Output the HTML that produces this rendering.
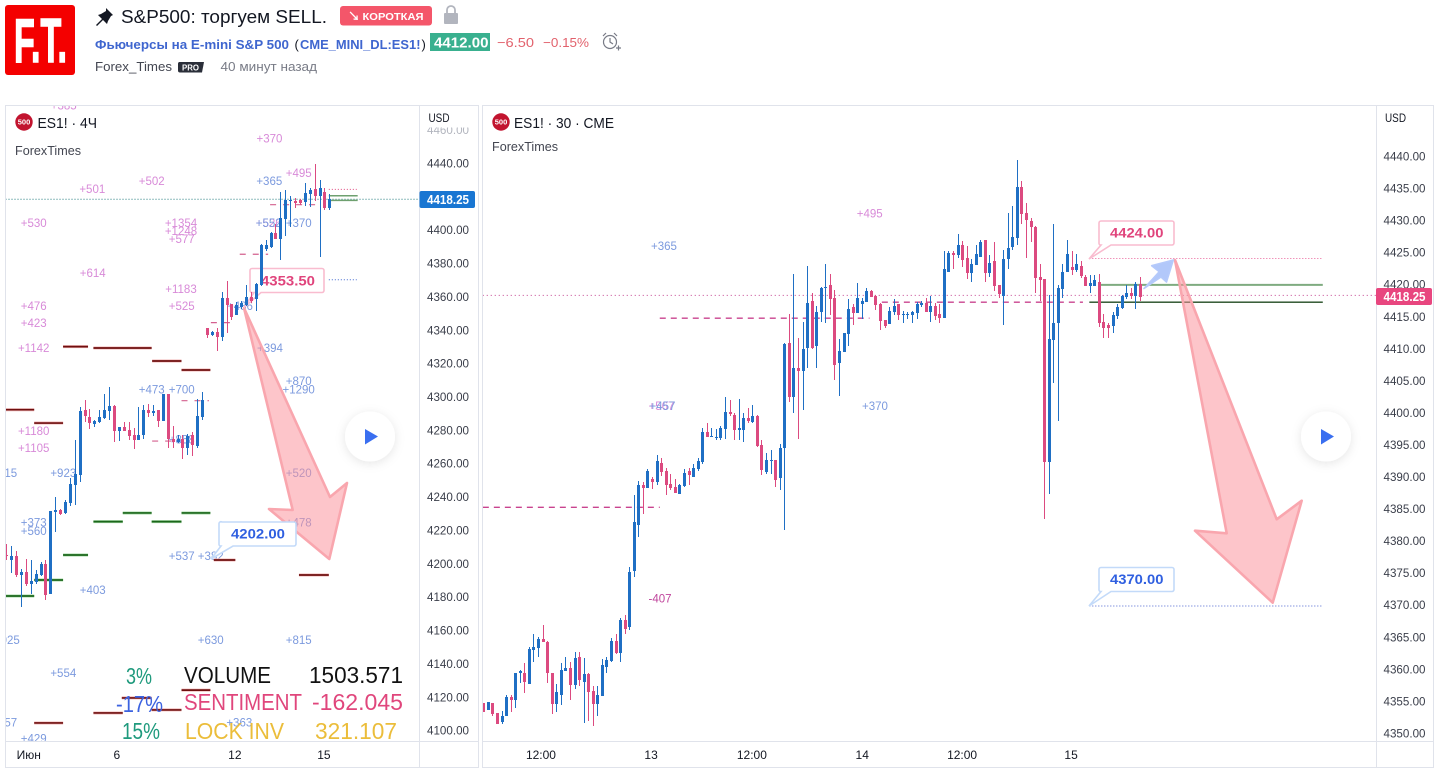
<!DOCTYPE html>
<html lang="ru">
<head>
<meta charset="utf-8">
<title>S&amp;P500: торгуем SELL.</title>
<style>
html,body{margin:0;padding:0;background:#fff;width:1438px;height:775px;overflow:hidden}
svg{display:block;font-family:"Liberation Sans","Noto Sans CJK JP",sans-serif}
.p{fill:#d88ad8;font-size:11.5px;text-anchor:middle}
.b{fill:#7c9ade;font-size:11.5px;text-anchor:middle}
.big{font-size:23px}
.leg{fill:#131722}
</style>
</head>
<body>
<svg id="page" xmlns="http://www.w3.org/2000/svg" width="1438" height="775" viewBox="0 0 1438 775">
<defs>
<clipPath id="clipL"><rect x="6" y="106" width="413" height="635"/></clipPath>
<clipPath id="clipR"><rect x="483" y="106" width="893" height="635"/></clipPath>
<clipPath id="clipAxisL"><rect x="420" y="127.5" width="58" height="613"/></clipPath>
<filter id="soft" x="-40%" y="-40%" width="180%" height="180%"><feDropShadow dx="0" dy="2" stdDeviation="5" flood-color="#000" flood-opacity=".1"/></filter>
</defs>
<rect width="1438" height="775" fill="#fff"/>

<g>
  <g>
    <rect x="5" y="5" width="70" height="70" rx="3" fill="#f40000"/>
    <text x="14" y="62" font-size="62" font-weight="bold" fill="#fff" stroke="#fff" stroke-width="1.6" textLength="53" lengthAdjust="spacingAndGlyphs">F.T.</text>
  </g>
  <path d="M106 8l7 7-2 1-3 5-1 3-4-4-6 6-1-1 6-6-4-4 3-1 5-3z" fill="#131722"/>
  <text x="121" y="23" font-size="18" fill="#131722" textLength="206" lengthAdjust="spacingAndGlyphs">S&amp;P500: торгуем SELL.</text>
  <g>
    <rect x="340" y="6" width="92" height="19.5" rx="3" fill="#f4566a"/>
    <text x="348" y="20.5" font-size="12" fill="#fff" font-weight="bold">↘</text>
    <text x="362.5" y="20" font-size="10.5" font-weight="bold" fill="#fff" textLength="61" lengthAdjust="spacingAndGlyphs">КОРОТКАЯ</text>
  </g>
  <g>
    <path d="M447 14v-4a4 4 0 0 1 8 0v4" fill="none" stroke="#b2b5be" stroke-width="1.8"/>
    <rect x="444" y="13" width="14" height="11" rx="1" fill="#b2b5be"/>
  </g>
  <text x="95" y="49" font-size="12.5" font-weight="bold" fill="#3f66cf" textLength="194" lengthAdjust="spacingAndGlyphs">Фьючерсы на E-mini S&amp;P 500</text>
  <text x="294.5" y="49" font-size="13" fill="#131722">(</text>
  <text x="300" y="49" font-size="12.5" font-weight="bold" fill="#3f66cf" textLength="120.5" lengthAdjust="spacingAndGlyphs">CME_MINI_DL:ES1!</text>
  <text x="421.5" y="49" font-size="13" fill="#131722">)</text>
  <rect x="430" y="33" width="60" height="18" fill="#39b08f"/>
  <text x="434" y="47.5" font-size="14.5" font-weight="bold" fill="#fff" textLength="54.5" lengthAdjust="spacingAndGlyphs">4412.00</text>
  <text x="497" y="47" font-size="13" fill="#e2616c" textLength="37" lengthAdjust="spacingAndGlyphs">−6.50</text>
  <text x="543" y="47" font-size="13" fill="#e2616c" textLength="46" lengthAdjust="spacingAndGlyphs">−0.15%</text>
  <g fill="none" stroke="#787b86" stroke-width="1.2">
    <circle cx="610" cy="42" r="6.5"/><path d="M610 38v4l3 2M603 36l3-3M617 36l-3-3M616 48h5M618.5 45.5v5"/>
  </g>
  <text x="95" y="71" font-size="12.5" fill="#434651" textLength="77" lengthAdjust="spacingAndGlyphs">Forex_Times</text>
  <g>
    <path d="M179 62h25l-2 10.5h-22a2 2 0 0 1-2-2v-7a2 2 0 0 1 1-1.5z" fill="#2a2e39"/>
    <text x="182" y="70.5" font-size="8" font-weight="bold" fill="#fff" textLength="17" lengthAdjust="spacingAndGlyphs">PRO</text>
  </g>
  <text x="220.5" y="71" font-size="12.5" fill="#787b86" textLength="96.5" lengthAdjust="spacingAndGlyphs">40 минут назад</text>
</g>

<g>
  <g clip-path="url(#clipL)">
    <g>
      <text class="p" x="63.7" y="109.5">+385</text>
      <text class="p" x="269.5" y="142.5">+370</text>
      <text class="p" x="298.7" y="177">+495</text>
      <text class="p" x="92.3" y="193">+501</text>
      <text class="p" x="151.7" y="185">+502</text>
      <text class="p" x="33.7" y="227">+530</text>
      <text class="p" x="181" y="227">+1354</text>
      <text class="p" x="181" y="235">+1248</text>
      <text class="p" x="181.7" y="243">+577</text>
      <text class="p" x="268.7" y="227">+526</text>
      <text class="b" x="268.7" y="227">+552</text>
      <text class="b" x="298.7" y="227">+370</text>
      <text class="b" x="269.3" y="185">+365</text>
      <text class="p" x="92.7" y="277">+614</text>
      <text class="p" x="181" y="293">+1183</text>
      <text class="p" x="33.7" y="310">+476</text>
      <text class="p" x="181.7" y="310">+525</text>
      <text class="b" x="240" y="310">+486</text>
      <text class="p" x="33.7" y="327">+423</text>
      <text class="p" x="33.7" y="352">+1142</text>
      <text class="b" x="270" y="352">+394</text>
      <text class="b" x="298.7" y="385">+870</text>
      <text class="b" x="298.7" y="393.5">+1290</text>
      <text class="b" x="151.7" y="393.5">+473</text>
      <text class="b" x="181.7" y="393.5">+700</text>
      <text class="b" x="181.7" y="443.5">+858</text>
      <text class="p" x="33.7" y="435">+1180</text>
      <text class="p" x="33.7" y="452">+1105</text>
      <text class="b" x="4.2" y="477">+415</text>
      <text class="b" x="63.3" y="477">+923</text>
      <text class="b" x="298.7" y="477">+520</text>
      <text class="b" x="33.7" y="526.5">+373</text>
      <text class="b" x="33.7" y="535">+560</text>
      <text class="b" x="298.7" y="526.5">+478</text>
      <text class="b" x="181.7" y="560">+537</text>
      <text class="b" x="210.7" y="560">+382</text>
      <text class="b" x="92.7" y="594">+403</text>
      <text class="b" x="6.8" y="644">+925</text>
      <text class="b" x="210.7" y="644">+630</text>
      <text class="b" x="298.7" y="644">+815</text>
      <text class="b" x="63.3" y="677">+554</text>
      <text class="b" x="4.2" y="726.5">+457</text>
      <text class="b" x="239.3" y="726.5">+363</text>
      <text class="b" x="33.7" y="742.5">+429</text>
    </g>
    <g id="leftLevels"></g>
    <polygon points="244,308 330,497 347,483 329.3,559 269,509 292.7,510" fill="#fb8f99" fill-opacity=".52" stroke="#f9a6ae" stroke-width="2.6" stroke-linejoin="round"/>
    <g>
      <path d="M252 268.5h70a2 2 0 0 1 2 2v20a2 2 0 0 1-2 2h-61l-17 15 10-15h-2a2 2 0 0 1-2-2v-20a2 2 0 0 1 2-2z" fill="#fff" stroke="#f9bccf" stroke-width="1.6"/>
      <text x="261" y="285.5" font-size="13.5" font-weight="bold" fill="#e0447c" textLength="54" lengthAdjust="spacingAndGlyphs">4353.50</text>
    </g>
    <g>
      <path d="M222 522h72a2 2 0 0 1 2 2v20a2 2 0 0 1-2 2h-61l-22 13 10-13h-1a2 2 0 0 1-1-2v-20a2 2 0 0 1 3-2z" fill="#fff" stroke="#c3daf9" stroke-width="1.6"/>
      <text x="231" y="538.5" font-size="13.5" font-weight="bold" fill="#2f5fe0" textLength="54" lengthAdjust="spacingAndGlyphs">4202.00</text>
    </g>
    <g id="leftCandles"></g>
    <g class="big">
      <text x="126" y="684" fill="#1f9a7d" textLength="26" lengthAdjust="spacingAndGlyphs">3%</text>
      <text x="184" y="683" fill="#111" textLength="87" lengthAdjust="spacingAndGlyphs">VOLUME</text>
      <text x="309" y="683" fill="#111" textLength="94" lengthAdjust="spacingAndGlyphs">1503.571</text>
      <text x="116" y="712" fill="#3c63e0" textLength="47" lengthAdjust="spacingAndGlyphs">-17%</text>
      <text x="184" y="710" fill="#e0467c" textLength="118" lengthAdjust="spacingAndGlyphs">SENTIMENT</text>
      <text x="312" y="710" fill="#e0467c" textLength="91" lengthAdjust="spacingAndGlyphs">-162.045</text>
      <text x="122" y="739" fill="#1f9a7d" textLength="38" lengthAdjust="spacingAndGlyphs">15%</text>
      <text x="185" y="739" fill="#ebbd3a" textLength="99" lengthAdjust="spacingAndGlyphs">LOCK INV</text>
      <text x="315" y="739" fill="#ebbd3a" textLength="82" lengthAdjust="spacingAndGlyphs">321.107</text>
    </g>
  </g>
  <g id="leftAxis" clip-path="url(#clipAxisL)"></g>
  <g id="leftTime"></g>
  <rect x="5.5" y="105.5" width="473" height="662" fill="none" stroke="#e0e3eb"/>
  <path d="M419.5 106V767M6 741.5H478" stroke="#e0e3eb" fill="none"/>
  <g>
    <circle cx="24" cy="122" r="8.7" fill="#c2142f"/>
    <text x="24" y="124.7" font-size="7.5" font-weight="bold" fill="#fff" text-anchor="middle">500</text>
    <text class="leg" x="37.5" y="128" font-size="15" textLength="59.5" lengthAdjust="spacingAndGlyphs">ES1! · 4Ч</text>
    <text x="15" y="155" font-size="12.5" fill="#434651" textLength="66" lengthAdjust="spacingAndGlyphs">ForexTimes</text>
  </g>
  <text x="428.5" y="122" font-size="12" fill="#131722" textLength="21" lengthAdjust="spacingAndGlyphs">USD</text>
  <rect x="419.5" y="191" width="55.5" height="17" rx="2" fill="#1976d2"/>
  <text x="427" y="204" font-size="12.5" font-weight="bold" fill="#fff" textLength="42" lengthAdjust="spacingAndGlyphs">4418.25</text>
  <g>
    <circle cx="370" cy="436.5" r="25" fill="#fff" filter="url(#soft)"/>
    <polygon points="365,429 378,436.5 365,444.5" fill="#3a6ff0"/>
  </g>
</g>

<g>
  <g clip-path="url(#clipR)">
    <g>
      <text class="p" x="869.7" y="217.5">+495</text>
      <text class="b" x="664" y="250">+365</text>
      <text class="b" x="875" y="410">+370</text>
      <text class="p" x="661.5" y="410">+567</text>
      <text class="b" x="662.5" y="410">+457</text>
      <text x="660" y="602.5" font-size="11.5" text-anchor="middle" fill="#c0459c">-407</text>
    </g>
    <g id="rightLevels"></g>
    <polygon points="1175,260 1276.7,519.3 1301.7,500.7 1272.7,602.7 1195,530.7 1226.7,533.3" fill="#fb8f99" fill-opacity=".52" stroke="#f9a6ae" stroke-width="2.6" stroke-linejoin="round"/>
    <polygon points="1144,288.5 1159.3,271.7 1151.7,265.7 1173.3,260 1166.5,282 1161,277" fill="#7ea3f7" fill-opacity=".6" stroke="#b5cafb" stroke-width="1.6" stroke-linejoin="round"/>
    <g>
      <path d="M1101 221h71a2 2 0 0 1 2 2v20a2 2 0 0 1-2 2h-61l-22 14 12-14h-1a2 2 0 0 1-1-2v-20a2 2 0 0 1 2-2z" fill="#fff" stroke="#f9bccf" stroke-width="1.6"/>
      <text x="1110" y="237.5" font-size="13.5" font-weight="bold" fill="#e0447c" textLength="53.5" lengthAdjust="spacingAndGlyphs">4424.00</text>
    </g>
    <g>
      <path d="M1101 567.5h71a2 2 0 0 1 2 2v20a2 2 0 0 1-2 2h-61l-22 14.5 12-14.5h-1a2 2 0 0 1-1-2v-20a2 2 0 0 1 2-2z" fill="#fff" stroke="#c3daf9" stroke-width="1.6"/>
      <text x="1110" y="584" font-size="13.5" font-weight="bold" fill="#2f5fe0" textLength="53.5" lengthAdjust="spacingAndGlyphs">4370.00</text>
    </g>
    <g id="rightCandles"></g>
  </g>
  <g id="rightAxis"></g>
  <g id="rightTime"></g>
  <rect x="482.5" y="105.5" width="951" height="662" fill="none" stroke="#e0e3eb"/>
  <path d="M1376.5 106V767M483 741.5H1433" stroke="#e0e3eb" fill="none"/>
  <g>
    <circle cx="501" cy="122" r="8.7" fill="#c2142f"/>
    <text x="501" y="124.7" font-size="7.5" font-weight="bold" fill="#fff" text-anchor="middle">500</text>
    <text class="leg" x="514" y="128" font-size="15" textLength="100" lengthAdjust="spacingAndGlyphs">ES1! · 30 · CME</text>
    <text x="492" y="151" font-size="12.5" fill="#434651" textLength="66" lengthAdjust="spacingAndGlyphs">ForexTimes</text>
  </g>
  <text x="1385" y="122" font-size="12" fill="#131722" textLength="21" lengthAdjust="spacingAndGlyphs">USD</text>
  <rect x="1376" y="288" width="56" height="17" rx="2" fill="#e8467f"/>
  <text x="1383.5" y="301" font-size="12.5" font-weight="bold" fill="#fff" textLength="42" lengthAdjust="spacingAndGlyphs">4418.25</text>
  <g>
    <circle cx="1326" cy="436.5" r="25" fill="#fff" filter="url(#soft)"/>
    <polygon points="1321,429 1334,436.5 1321,444.5" fill="#3a6ff0"/>
  </g>
</g>
</svg>
<script>
/* ---------- 30-minute chart data (right pane) ---------- */
const rightOpen = [
4354.7,4353.5,4354.6,4353.1,4351.7,4352.7,4355.6,4355.1,4359.3,4359.4,
4357.7,4362.9,4363.2,4364.6,4364.2,4359.4,4354.5,4355.9,4359.7,4360.1,
4357.5,4361.8,4358.0,4359.2,4356.5,4354.5,4355.8,4360.3,4361.2,4364.3,
4362.5,4367.6,4366.5,4375.3,4382.4,4388.7,4388.2,4389.6,4389.1,4392.1,
4390.9,4388.8,4388.4,4387.3,4388.5,4390.9,4389.9,4391.2,4392.3,4396.9,
4396.2,4396.0,4396.0,4397.4,4400.1,4399.6,4397.3,4397.3,4399.1,4398.5,
4399.4,4394.9,4390.7,4392.4,4392.6,4389.8,4394.4,4410.8,4402.4,4406.9,
4406.5,4410.1,4417.4,4410.3,4415.7,4419.5,4419.9,4417.9,4407.7,4409.4,
4412.2,4416.5,4415.5,4416.9,4417.2,4418.9,4418.2,4416.9,4414.4,4413.8,
4415.7,4416.9,4415.25,4415.25,4415.25,4415.5,4416.8,4417.1,4415.7,4416.6,
4415.4,4414.7,4421.9,4424.9,4424.6,4426.1,4424.1,4421.8,4423.0,4424.3,
4426.9,4421.8,4423.6,4419.9,4418.2,4423.9,4425.8,4427.2,4435.2,4431.1,
4429.9,4428.9,4421.1,4420.8,4392.3,4411.3,4414.0,4419.3,4421.9,4422.7,
4422.2,4422.8,4421.1,4419.7,4419.7,4420.4,4414.1,4413.6,4413.5,4415.0,
4416.3,4418.0,4418.6,4418.2,4420.0];
const rightClose = [
4353.3,4354.8,4353.0,4351.4,4352.7,4355.6,4355.1,4359.4,4359.6,4358.0,
4363.1,4363.4,4364.6,4364.2,4359.3,4354.5,4356.4,4359.8,4360.1,4357.5,
4361.7,4358.3,4359.2,4356.4,4354.5,4355.9,4360.6,4361.4,4364.3,4362.4,
4367.6,4366.2,4375.1,4382.9,4388.7,4388.2,4390.9,4389.1,4392.4,4390.7,
4388.7,4388.2,4387.4,4388.7,4390.6,4390.2,4391.3,4392.4,4396.9,4396.2,
4396.3,4396.2,4397.6,4400.1,4399.7,4397.3,4397.6,4399.1,4398.6,4399.4,
4394.8,4391.0,4392.6,4392.6,4389.4,4394.4,4410.7,4402.4,4406.9,4406.5,
4409.9,4417.1,4410.1,4415.7,4419.4,4419.6,4417.7,4407.4,4409.6,4412.4,
4416.1,4415.5,4417.9,4417.4,4418.9,4418.0,4416.8,4414.3,4413.5,4415.8,
4416.6,4415.2,4415.4,4415.4,4415.7,4416.9,4417.1,4415.7,4416.6,4415.0,
4414.7,4422.4,4424.9,4424.6,4426.1,4423.8,4421.8,4423.2,4424.7,4426.6,
4421.8,4423.3,4419.7,4418.5,4423.9,4425.7,4427.4,4435.2,4431.0,4430.0,
4428.9,4421.0,4420.7,4392.3,4411.5,4414.0,4419.4,4421.9,4424.7,4422.2,
4423.2,4421.3,4419.7,4420.2,4420.7,4414.0,4413.2,4413.2,4415.2,4416.4,
4418.2,4418.6,4418.2,4420.0,4418.0];
const rightHigh = [
4354.7,4354.8,4354.6,4353.1,4353.4,4355.9,4355.9,4359.4,4359.8,4360.9,
4363.4,4365.5,4365.0,4366.8,4364.3,4359.4,4357.6,4360.9,4361.8,4361.1,
4362.6,4362.6,4361.7,4359.4,4357.3,4357.3,4361.6,4361.8,4364.8,4365.5,
4368.0,4368.4,4375.9,4387.1,4389.3,4389.1,4391.2,4389.9,4393.4,4392.9,
4391.3,4390.4,4389.6,4388.8,4391.2,4391.3,4392.0,4392.9,4397.6,4398.3,
4397.6,4397.4,4397.9,4402.4,4401.9,4399.9,4402.1,4399.9,4400.7,4401.1,
4399.6,4395.7,4393.6,4394.1,4392.6,4395.1,4410.8,4415.3,4421.6,4411.6,
4414.1,4422.8,4418.6,4416.6,4419.6,4423.2,4421.6,4419.1,4411.5,4412.4,
4417.7,4416.9,4420.2,4417.9,4419.4,4419.1,4418.3,4417.1,4414.4,4416.5,
4417.7,4416.9,4415.8,4415.7,4415.8,4417.2,4417.4,4417.9,4418.2,4417.1,
4416.9,4425.2,4425.2,4425.2,4427.8,4426.7,4426.0,4423.9,4426.1,4426.9,
4426.9,4424.6,4426.6,4419.9,4425.3,4431.1,4432.2,4439.4,4436.1,4432.7,
4430.3,4429.1,4423.2,4420.8,4418.3,4429.4,4419.9,4423.2,4426.9,4425.2,
4424.7,4423.6,4421.4,4421.4,4421.4,4421.6,4415.4,4413.9,4415.7,4416.9,
4418.3,4419.9,4419.4,4420.3,4421.1];
const rightLow = [
4353.3,4353.5,4352.7,4351.4,4351.4,4352.7,4353.2,4353.9,4357.8,4356.2,
4357.7,4361.1,4361.9,4364.2,4357.8,4352.9,4353.2,4354.4,4359.7,4355.1,
4356.9,4357.3,4351.6,4351.9,4351.1,4352.6,4355.8,4359.4,4361.1,4362.3,
4361.1,4365.5,4366.1,4374.3,4380.6,4384.2,4388.2,4388.1,4388.7,4390.1,
4387.1,4387.9,4387.4,4387.3,4388.4,4388.7,4389.9,4390.9,4392.0,4396.2,
4396.2,4395.7,4395.7,4395.8,4399.4,4395.7,4395.7,4395.4,4398.4,4398.4,
4394.6,4390.2,4390.4,4390.4,4388.4,4387.9,4381.6,4401.6,4399.9,4395.8,
4400.4,4406.9,4409.9,4406.9,4414.1,4414.0,4415.2,4405.1,4402.6,4409.4,
4410.3,4413.6,4415.5,4414.6,4417.2,4418.0,4416.0,4412.9,4413.2,4413.8,
4415.2,4414.4,4414.0,4414.6,4414.0,4414.6,4416.5,4415.7,4414.1,4414.4,
4414.0,4414.7,4421.9,4422.4,4424.1,4422.7,4420.8,4420.4,4423.0,4424.3,
4420.4,4421.1,4418.9,4417.9,4413.6,4422.4,4425.3,4426.1,4429.4,4424.1,
4426.6,4418.6,4417.4,4383.4,4387.2,4404.6,4398.7,4417.9,4421.9,4421.4,
4421.9,4421.0,4419.7,4418.6,4419.7,4413.3,4411.6,4411.6,4412.4,4414.6,
4416.1,4417.7,4417.7,4416.1,4417.4];
const rightPriceTicks = [4440,4435,4430,4425,4420,4415,4410,4405,4400,4395,4390,4385,4380,4375,4370,4365,4360,4355,4350];
const rightTimeLabels = ["12:00","13","12:00","14","12:00","15"];
const rightTimeBars = [12.65,36.8,58.9,83.1,105,128.9];
const rightLastPrice = 4418.25;
const rightDashPrices = [4385.2,4414.7,4417.2];
const rightDashStart = [-0.1,38.7,87.4];
const rightDashEnd = [38.7,84.7,131.5];
const rightTargetPrices = [4424,4369.8];
const rightTargetStart = [132.9,132.9];
const rightTargetEnd = [184.1,184.1];
const rightEntryPrices = [4419.9,4417.2];
const rightEntryStart = [135.2,132.9];
const rightEntryEnd = [184.1,184.1];

/* ---------- 4-hour chart data (left pane) ---------- */
const leftOpen = [
4204.9,4201.9,4204.3,4192.9,4194.7,4187.5,4188.7,4192.9,4199.5,4181.5,
4230.7,4231.9,4230.1,4236.1,4246.9,4252.9,4291.9,4287.7,4283.5,4284.7,
4287.1,4291.3,4294.3,4279.3,4281.7,4279.9,4276.9,4273.9,4276.9,4291.9,
4290.1,4291.9,4285.3,4301.5,4274.5,4272.7,4274.5,4269.1,4276.9,4270.3,
4287.7,4341.2,4336.8,4338.6,4335.6,4358.8,4355.4,4348.8,4353.6,4354.8,
4359.6,4358.4,4366.8,4388.4,4389.6,4398.0,4394.4,4406.4,4417.2,4417.4,
4417.6,4416.4,4421.4,4424.4,4420.2,4422.6,4413.0];
const leftClose = [
4204.3,4204.3,4192.9,4194.7,4187.5,4189.3,4193.5,4199.5,4180.9,4231.3,
4231.9,4229.5,4236.7,4247.5,4253.5,4291.3,4288.3,4284.1,4285.3,4287.7,
4291.9,4294.3,4279.3,4281.7,4279.3,4276.3,4273.9,4276.9,4291.9,4290.1,
4291.3,4285.3,4301.5,4274.5,4272.7,4274.5,4269.1,4276.3,4270.9,4288.3,
4297.9,4336.8,4338.6,4335.6,4358.8,4354.8,4347.6,4354.8,4356.0,4359.6,
4357.2,4367.4,4390.8,4390.8,4398.0,4394.4,4407.0,4417.8,4417.8,4415.8,
4415.8,4421.8,4423.8,4420.2,4425.0,4413.0,4418.4];
const leftHigh = [
4211.5,4210.3,4207.3,4196.5,4202.7,4201.9,4195.9,4200.7,4201.9,4231.3,
4239.5,4232.5,4237.9,4250.9,4273.9,4293.7,4297.9,4292.5,4285.9,4291.9,
4301.5,4305.7,4294.9,4281.7,4284.7,4284.7,4281.1,4293.7,4294.9,4295.5,
4294.9,4291.9,4301.5,4301.5,4282.3,4276.9,4276.9,4277.5,4278.7,4298.5,
4302.7,4341.2,4339.2,4340.8,4362.6,4369.2,4355.4,4356.6,4357.2,4366.8,
4362.6,4368.0,4391.4,4393.8,4398.6,4403.4,4422.6,4423.8,4420.2,4419.2,
4418.6,4428.0,4425.0,4439.4,4429.8,4425.0,4421.4];
const leftLow = [
4201.9,4193.9,4191.9,4173.9,4186.3,4181.9,4187.9,4192.3,4178.3,4181.5,
4218.9,4228.9,4229.5,4234.3,4234.9,4248.7,4284.7,4280.5,4281.7,4284.1,
4286.3,4285.9,4272.7,4273.3,4279.3,4273.9,4268.5,4273.9,4274.5,4287.7,
4288.3,4281.7,4285.3,4269.1,4269.1,4271.9,4262.5,4264.9,4264.3,4269.1,
4285.9,4335.2,4336.2,4327.2,4333.2,4338.2,4345.8,4348.8,4352.4,4354.2,
4355.8,4351.2,4366.2,4387.2,4389.0,4394.4,4381.8,4396.2,4401.4,4413.0,
4414.8,4414.2,4413.6,4417.2,4383.8,4411.8,4411.8];
const leftPriceTicks = [4460,4440,4420,4400,4380,4360,4340,4320,4300,4280,4260,4240,4220,4200,4180,4160,4140,4120,4100];
const leftTimeLabels = ["Июн","6","12","15"];
const leftTimeBars = [4.6,22.6,46.7,64.9];
const leftLastPrice = 4418.25;
const lossLevelPrices = [4329.9,4329.1,4321.3,4315.9,4292.1,4284.1,4124.0,4119.3,4112.1,4110.3,4104.3,4202.0,4193.0];
const lossLevelStart = [11.6,17.8,29.8,35.8,-0.1,5.7,35.8,23.6,29.7,17.8,5.7,42.4,59.8];
const lossLevelEnd = [16.7,29.7,35.8,41.7,5.7,11.6,41.7,29.7,35.8,23.8,11.6,46.8,65.9];
const gainLevelPrices = [4225,4230.2,4225,4230.2,4205,4190,4180.4];
const gainLevelStart = [17.8,23.8,29.7,35.8,11.6,5.7,-0.1];
const gainLevelEnd = [23.8,29.7,35.8,41.7,16.7,11.6,5.7];
const leftDashPrices = [4385.3,4344.3,4297.5,4273.3,4415];
const leftDashStart = [47.7,41.8,35.8,29.8,53.9];
const leftDashEnd = [53.5,46.9,41.4,35.5,63.5];
const leftTargetPrices = [4424.2,4370];
const leftTargetStart = [65.9,65.9];
const leftTargetEnd = [71.6,71.6];
const leftEntryPrices = [4420.4,4417.6];
const leftEntryStart = [65.9,65.9];
const leftEntryEnd = [71.8,71.8];

/* ---------- axis functions ---------- */
const rightY = p => 156 + (4440 - p) * 6.41;
const rightX = i => 483.3 + i * 4.56;
const leftY = p => 163 + (4440 - p) * 1.668;
const leftX = i => 6.3 + i * 4.894;

const NS = 'http://www.w3.org/2000/svg';
function mk(parent, tag, attrs) {
  const el = document.createElementNS(NS, tag);
  for (const k in attrs) el.setAttribute(k, attrs[k]);
  parent.appendChild(el);
  return el;
}

function drawCandles(group, o, h, l, c, xf, yf) {
  for (let i = 0; i < o.length; i++) {
    const up = c[i] >= o[i];
    const color = up ? '#1f6fc4' : '#dc4a80';
    const cx = Math.round(xf(i));
    const top = Math.round(yf(Math.max(o[i], c[i])));
    const bottom = Math.round(yf(Math.min(o[i], c[i])));
    const wickTop = Math.round(yf(h[i]));
    const wickBottom = Math.round(yf(l[i]));
    const wick = mk(group, 'rect', {x: cx, y: wickTop, width: 1, height: Math.max(1, wickBottom - wickTop), fill: color, 'shape-rendering': 'crispEdges'});
    
    
    const body = mk(group, 'rect', {x: cx - 1, y: top, width: 3, height: Math.max(1, bottom - top), fill: color, 'shape-rendering': 'crispEdges'});
    
    
  }
}

function drawLevels(group, prices, starts, ends, xf, yf, style, name) {
  for (let i = 0; i < prices.length; i++) {
    const y = yf(prices[i]);
    const attrs = Object.assign({x1: xf(starts[i]), x2: xf(ends[i]), y1: y, y2: y}, style);
    const line = mk(group, 'line', attrs);
    
    
  }
}

function drawPriceAxis(group, ticks, yf, x) {
  for (const t of ticks) {
    const y = yf(t);
    const label = mk(group, 'text', {x: x, y: y + 4.5, 'font-size': 12, fill: y < 140 ? '#b2b5be' : '#3a3e4a', textLength: 42, lengthAdjust: 'spacingAndGlyphs'});
    label.textContent = t.toFixed(2);
    
    
  }
}

function drawTimeAxis(group, labels, bars, xf) {
  labels.forEach((txt, i) => {
    const label = mk(group, 'text', {x: xf(bars[i]), y: 759, 'font-size': 12, fill: '#131722', 'text-anchor': 'middle'});
    label.textContent = txt;
    
    
  });
}

/* ---------- left pane ---------- */
const lLv = document.getElementById('leftLevels');
drawLevels(lLv, [leftLastPrice], [-2], [85], leftX, leftY, {stroke: '#1f7a7d', 'stroke-width': 1, 'stroke-dasharray': '1 2'}, 'last-price-line');
drawLevels(lLv, lossLevelPrices, lossLevelStart, lossLevelEnd, leftX, leftY, {stroke: '#f0b5b5', 'stroke-width': 3}, 'loss-level-halo');
drawLevels(lLv, lossLevelPrices, lossLevelStart, lossLevelEnd, leftX, leftY, {stroke: '#6e0f0f', 'stroke-width': 1.7}, 'loss-level');
drawLevels(lLv, gainLevelPrices, gainLevelStart, gainLevelEnd, leftX, leftY, {stroke: '#a5d8a5', 'stroke-width': 3}, 'gain-level-halo');
drawLevels(lLv, gainLevelPrices, gainLevelStart, gainLevelEnd, leftX, leftY, {stroke: '#1b661b', 'stroke-width': 1.7}, 'gain-level');
drawLevels(lLv, leftDashPrices, leftDashStart, leftDashEnd, leftX, leftY, {stroke: '#d4608f', 'stroke-width': 1.2, 'stroke-dasharray': '6 7'}, 'entry-dash-level');
drawLevels(lLv, [leftTargetPrices[0]], [leftTargetStart[0]], [leftTargetEnd[0]], leftX, leftY, {stroke: '#e0447c', 'stroke-width': 1, 'stroke-dasharray': '1 2'}, 'target-level-up');
drawLevels(lLv, [leftTargetPrices[1]], [leftTargetStart[1]], [leftTargetEnd[1]], leftX, leftY, {stroke: '#3f66cf', 'stroke-width': 1, 'stroke-dasharray': '1 2'}, 'target-level-down');
drawLevels(lLv, [leftEntryPrices[0]], [leftEntryStart[0]], [leftEntryEnd[0]], leftX, leftY, {stroke: '#6ea06f', 'stroke-width': 1.5}, 'entry-level-top');
drawLevels(lLv, [leftEntryPrices[1]], [leftEntryStart[1]], [leftEntryEnd[1]], leftX, leftY, {stroke: '#6ea06f', 'stroke-width': 1.5}, 'entry-level-bottom');
drawCandles(document.getElementById('leftCandles'), leftOpen, leftHigh, leftLow, leftClose, leftX, leftY);
drawPriceAxis(document.getElementById('leftAxis'), leftPriceTicks, leftY, 427);
drawTimeAxis(document.getElementById('leftTime'), leftTimeLabels, leftTimeBars, leftX);

/* ---------- right pane ---------- */
const rLv = document.getElementById('rightLevels');
drawLevels(rLv, [rightLastPrice], [-1], [197], rightX, rightY, {stroke: '#c2418f', 'stroke-width': 1, 'stroke-dasharray': '1 3'}, 'last-price-line');
drawLevels(rLv, rightDashPrices, rightDashStart, rightDashEnd, rightX, rightY, {stroke: '#c9438f', 'stroke-width': 1.4, 'stroke-dasharray': '6 5'}, 'entry-dash-level');
drawLevels(rLv, [rightTargetPrices[0]], [rightTargetStart[0]], [rightTargetEnd[0]], rightX, rightY, {stroke: '#e8609a', 'stroke-width': 1, 'stroke-dasharray': '1 2'}, 'target-level-up');
drawLevels(rLv, [rightTargetPrices[1]], [rightTargetStart[1]], [rightTargetEnd[1]], rightX, rightY, {stroke: '#4a62d0', 'stroke-width': 1, 'stroke-dasharray': '1 2'}, 'target-level-down');
drawLevels(rLv, [rightEntryPrices[0]], [rightEntryStart[0]], [rightEntryEnd[0]], rightX, rightY, {stroke: '#7fab80', 'stroke-width': 2}, 'entry-level-top');
drawLevels(rLv, [rightEntryPrices[1]], [rightEntryStart[1]], [rightEntryEnd[1]], rightX, rightY, {stroke: '#1f4a1f', 'stroke-width': 1.4}, 'entry-level-bottom');
drawCandles(document.getElementById('rightCandles'), rightOpen, rightHigh, rightLow, rightClose, rightX, rightY);
drawPriceAxis(document.getElementById('rightAxis'), rightPriceTicks, rightY, 1383.5);
drawTimeAxis(document.getElementById('rightTime'), rightTimeLabels, rightTimeBars, rightX);
</script>
</body>
</html>
